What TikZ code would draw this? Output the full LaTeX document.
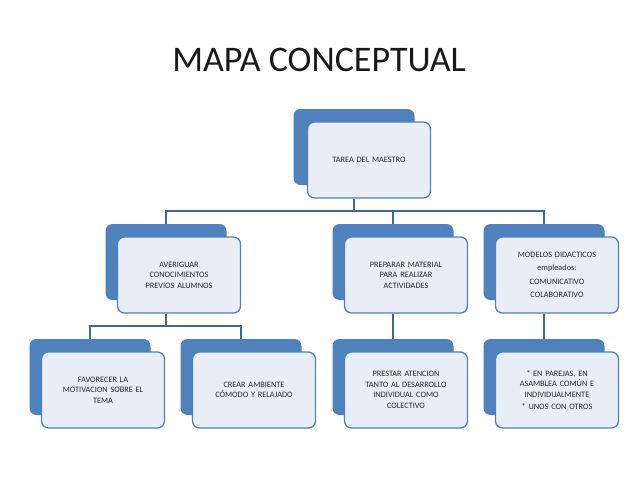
\documentclass[tikz,border=0pt]{standalone}
\usepackage{fontspec}
\setmainfont{Carlito}
\definecolor{acc}{HTML}{4F81BD}
\definecolor{pale}{HTML}{E9EEF6}
\begin{document}
\begin{tikzpicture}[x=1pt,y=-1pt,
  back/.style={fill=acc,draw=none,rounded corners=7pt,minimum width=121pt,minimum height=76pt,inner sep=0pt},
  front/.style={fill=pale,draw=acc,line width=1.3pt,rounded corners=7pt,minimum width=123pt,minimum height=76pt,inner sep=0pt,text width=112pt,align=center,font=\fontsize{8.3}{10.5}\selectfont,text=black!85},
  link/.style={draw=acc!80!black,line width=1.5pt}]
\useasboundingbox (0,0) rectangle (638,479);
\fill[white] (0,0) rectangle (638,479);
\node[font=\fontsize{36}{40}\selectfont,text=black!90] (title) at (319,60) {MAPA CONCEPTUAL};
% top
\node[back] (b0) at (354,147) {};
\node[front] (f0) at (369,160) {TAREA DEL MAESTRO};
% level 2
\node[back] (b1) at (166,262) {};
\node[front] (f1) at (179,275) {AVERIGUAR\\CONOCIMIENTOS\\PREVIOS ALUMNOS};
\node[back] (b2) at (393,262) {};
\node[front] (f2) at (406,275) {PREPARAR MATERIAL\\PARA REALIZAR\\ACTIVIDADES};
\node[back] (b3) at (544,262) {};
\node[front,font=\fontsize{8.3}{13.5}\selectfont] (f3) at (557,275) {MODELOS DIDACTICOS\\empleados:\\* COMUNICATIVO\\* COLABORATIVO};
% level 3
\node[back] (b4) at (90,377) {};
\node[front] (f4) at (103,390) {FAVORECER LA\\MOTIVACION SOBRE EL\\TEMA};
\node[back] (b5) at (241,377) {};
\node[front] (f5) at (254,390) {CREAR AMBIENTE\\CÓMODO Y RELAJADO};
\node[back] (b6) at (393,377) {};
\node[front] (f6) at (406,390) {PRESTAR ATENCION\\TANTO AL DESARROLLO\\INDIVIDUAL COMO\\COLECTIVO};
\node[back] (b7) at (544,377) {};
\node[front] (f7) at (557,390) {* EN PAREJAS, EN\\ASAMBLEA COMÚN E\\INDIVIDUALMENTE\\[2pt]* UNOS CON OTROS};
% connectors
\coordinate (h0) at (354,211);
\draw[link] (b0.south |- f0.south) -- (h0);
\draw[link] (b1.north) -- (b1.north |- h0) -- (b3.north |- h0) -- (b3.north);
\draw[link] (b2.north |- h0) -- (b2.north);
\coordinate (h1) at (166,326);
\draw[link] (b1.south |- f1.south) -- (h1);
\draw[link] (b4.north) -- (b4.north |- h1) -- (b5.north |- h1) -- (b5.north);
\draw[link] (b2.south |- f2.south) -- (b6.north);
\draw[link] (b3.south |- f3.south) -- (b7.north);
\end{tikzpicture}
\end{document}
